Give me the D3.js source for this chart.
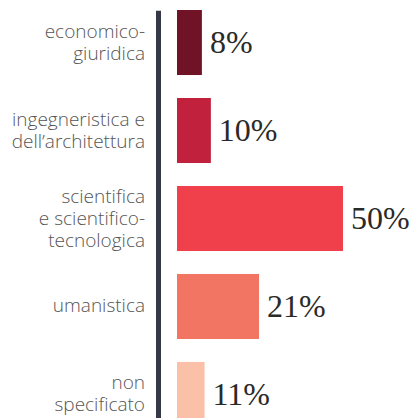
<!DOCTYPE html>
<html>
<head>
<meta charset="utf-8">
<script src="https://cdn.jsdelivr.net/npm/d3@7"></script>
<style>
  body { margin: 0; background: #fff; }
  .cat { font-family: "Open Sans", sans-serif; font-weight: 300; font-size: 19px; fill: #555; }
  .val { font-family: "Liberation Serif", serif; font-size: 32px; fill: #2a2a28; }
</style>
</head>
<body>
<div id="chart"></div>
<script>
// categorie (una riga per ogni a capo)
var categories = [
  ["economico-", "giuridica"],
  ["ingegneristica e", "dell’architettura"],
  ["scientifica", "e scientifico-", "tecnologica"],
  ["umanistica"],
  ["non", "specificato"]
];
// lunghezza barre
var values = [7.5, 10.2, 50, 24.7, 8.3];
// etichette percentuali
var labels = ["8%", "10%", "50%", "21%", "11%"];
var colors = ["#701326", "#c1213d", "#ef404b", "#f27462", "#fac0a8"];

var width = 414, height = 418;
var axisX = 158.5;
var barX = 177;
var lineHeight = 22;

var svg = d3.select('#chart')
  .append('svg')
  .attr('width', width)
  .attr('height', height);

var y = d3.scaleBand()
  .domain(d3.range(categories.length))
  .range([10, 427])
  .paddingInner(0.261)
  .paddingOuter(0);

var x = d3.scaleLinear()
  .domain([0, d3.max(values)])
  .range([0, 166]);

// barre
svg.selectAll('rect.bar')
  .data(values)
  .enter()
  .append('rect')
  .attr('class', 'bar')
  .attr('x', barX)
  .attr('y', function(d, i) { return y(i); })
  .attr('width', function(d) { return x(d); })
  .attr('height', y.bandwidth())
  .attr('fill', function(d, i) { return colors[i]; });

// asse verticale
svg.append('line')
  .attr('x1', axisX).attr('x2', axisX)
  .attr('y1', y.range()[0] + 0.7).attr('y2', height)
  .attr('stroke', '#343847')
  .attr('stroke-width', 5);

// etichette categorie
var cat = svg.selectAll('text.cat')
  .data(categories)
  .enter()
  .append('text')
  .attr('class', 'cat')
  .attr('text-anchor', 'end')
  .attr('x', 145)
  .attr('y', function(d, i) { return y(i) + y.bandwidth() / 2 + 6 - (d.length - 1) * lineHeight / 2; });

cat.selectAll('tspan')
  .data(function(d) { return d; })
  .enter()
  .append('tspan')
  .attr('x', 145)
  .attr('dy', function(d, i) { return i === 0 ? 0 : lineHeight; })
  .text(function(d) { return d; });

// etichette valori
svg.selectAll('text.val')
  .data(values)
  .enter()
  .append('text')
  .attr('class', 'val')
  .attr('x', function(d) { return barX + x(d) + 8; })
  .attr('y', function(d, i) { return y(i) + y.bandwidth() / 2; })
  .attr('dy', '0.34em')
  .text(function(d, i) { return labels[i]; });
</script>
</body>
</html>
